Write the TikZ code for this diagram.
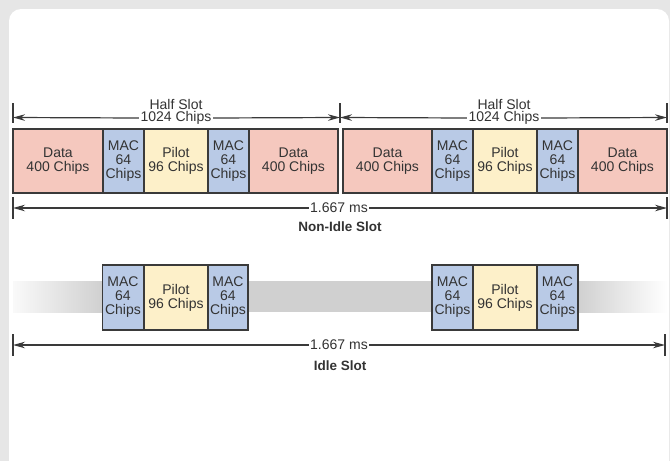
\documentclass[tikz,border=0pt]{standalone}
\usepackage{fontspec}
\setmainfont{Liberation Sans}
\usetikzlibrary{arrows.meta}
\definecolor{datac}{HTML}{F5C8BE}
\definecolor{macc}{HTML}{B9CAE6}
\definecolor{pilotc}{HTML}{FDF0C9}
\definecolor{edgec}{HTML}{3A3A3A}
\definecolor{txt}{HTML}{333333}
\definecolor{band}{HTML}{D0D0D0}
\definecolor{bgc}{HTML}{E6E6E6}
\tikzset{
  box/.style={draw=edgec,line width=1.6pt,inner sep=0pt,minimum height=64pt,align=center,text=txt,
    font=\fontsize{14}{14}\selectfont},
  databox/.style={box,fill=datac},
  macbox/.style={box,fill=macc,minimum width=41pt},
  pilotbox/.style={box,fill=pilotc,minimum width=64pt},
  lbl/.style={inner sep=1.5pt,align=center,text=txt,font=\fontsize{14}{14}\selectfont},
  blbl/.style={lbl,font=\fontsize{13.5}{14}\selectfont\bfseries},
  dim/.style={draw=edgec,line width=1.2pt,-{Stealth[length=12pt,width=6.5pt]}},
  tick/.style={draw=edgec,line width=1.2pt},
}
\begin{document}
\begin{tikzpicture}[x=1pt,y=-1pt]
\useasboundingbox (0,0) rectangle (670,461);
\fill[bgc] (0,0) rectangle (670,461);
\fill[white,rounded corners=12pt] (9,9) rectangle (669,475);

% ---------- Non-idle slot ----------
\node[databox,minimum width=90pt] (d1) at (58,161) {Data\\400 Chips};
\node[macbox] (m1) at (123.5,161) {MAC\\64\\Chips};
\node[pilotbox] (p1) at (176,161) {Pilot\\96 Chips};
\node[macbox] (m2) at (228.5,161) {MAC\\64\\Chips};
\node[databox,minimum width=89pt] (d2) at (293.5,161) {Data\\400 Chips};

\node[databox,minimum width=89pt] (d3) at (387.5,161) {Data\\400 Chips};
\node[macbox] (m3) at (452.5,161) {MAC\\64\\Chips};
\node[pilotbox] (p2) at (505,161) {Pilot\\96 Chips};
\node[macbox] (m4) at (557.5,161) {MAC\\64\\Chips};
\node[databox,minimum width=89pt] (d4) at (622.5,161) {Data\\400 Chips};

% half slot dimensions
\coordinate (ha) at (13,117.5);
\coordinate (hb) at (340,117.5);
\coordinate (hc) at (667,117.5);
\draw[tick] (13,103) -- (13,123);
\draw[tick] (340,103) -- (340,123);
\draw[tick] (667,103) -- (667,123);
\node[lbl] (hs1t) at (176,104) {Half Slot};
\node[lbl] (hs1) at (176,118) {1024 Chips};
\node[lbl] (hs2t) at (504,104) {Half Slot};
\node[lbl] (hs2) at (504,118) {1024 Chips};
\draw[dim] (hs1.west) -- (ha);
\draw[dim] (hs1.east) -- (hb);
\draw[dim] (hs2.west) -- (hb);
\draw[dim] (hs2.east) -- (hc);

% full slot dimension
\coordinate (na) at (13,208);
\coordinate (nb) at (667,208);
\draw[tick] (13,197) -- (13,219);
\draw[tick] (667,197) -- (667,219);
\node[lbl] (nms) at (339,208) {1.667 ms};
\draw[dim] (nms.west) -- (na);
\draw[dim] (nms.east) -- (nb);
\node[blbl] (nlab) at (340,227) {Non-Idle Slot};

% ---------- Idle slot ----------
\shade[left color=band!12,right color=band] (13,281) rectangle (102,312);
\fill[band] (248,281) rectangle (432,312);
\shade[left color=band,right color=white] (578,281) rectangle (667,312);

\node[macbox,minimum height=65pt] (i1) at (123,297.5) {MAC\\64\\Chips};
\node[pilotbox,minimum height=65pt] (ip1) at (176,297.5) {Pilot\\96 Chips};
\node[macbox,minimum height=65pt,minimum width=40pt] (i2) at (228,297.5) {MAC\\64\\Chips};

\node[macbox,minimum height=65pt] (i3) at (452.5,297.5) {MAC\\64\\Chips};
\node[pilotbox,minimum height=65pt] (ip2) at (505,297.5) {Pilot\\96 Chips};
\node[macbox,minimum height=65pt] (i4) at (557.5,297.5) {MAC\\64\\Chips};

\coordinate (ia) at (13,345);
\coordinate (ib) at (665,345);
\draw[tick] (13,334) -- (13,356);
\draw[tick] (665,334) -- (665,356);
\node[lbl] (ims) at (339,345) {1.667 ms};
\draw[dim] (ims.west) -- (ia);
\draw[dim] (ims.east) -- (ib);
\node[blbl] (ilab) at (340,366) {Idle Slot};
\end{tikzpicture}
\end{document}
